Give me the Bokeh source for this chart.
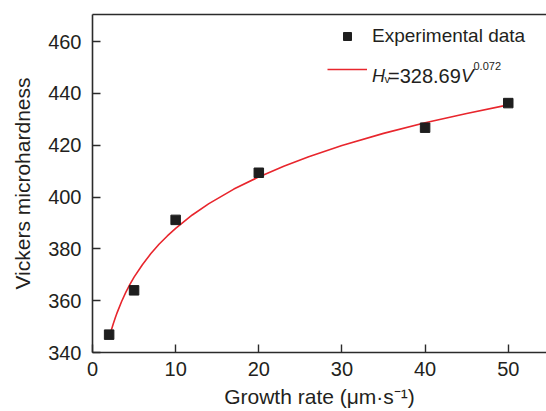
from bokeh.plotting import figure
from bokeh.models import (Range1d, FixedTicker, LinearAxis, Legend, LegendItem, Label)
from bokeh.embed import file_html
from bokeh.resources import INLINE

# ---- data ----
growth_rate = [2, 5, 10, 20, 40, 50]
hardness = [346.9, 364.0, 391.2, 409.4, 426.8, 436.3]

fit_rate = [2, 2.25, 2.5, 2.75, 3, 3.5, 4, 4.5, 5, 6, 7, 8, 9, 10, 12, 14, 17,
            20, 23, 26, 30, 35, 40, 45, 50]
fit_hardness = [345.5, 348.5, 351.1, 353.5, 355.7, 359.7, 363.2, 366.3, 369.1,
                373.9, 378.1, 381.8, 385.0, 387.9, 393.1, 397.5, 403.1, 407.8,
                411.9, 415.6, 419.9, 424.6, 428.7, 432.3, 435.6]

x_ticks = [0, 10, 20, 30, 40, 50]
y_ticks = [340, 360, 380, 400, 420, 440, 460]

FONT = "Liberation Sans"
TXT = "#231f20"
AX = "#2b2b2b"
RED = "#e8262d"

p = figure(width=546, height=411, output_backend="svg", toolbar_location=None,
           x_range=Range1d(0, 54.6), y_range=Range1d(340, 470.5),
           min_border_left=92, min_border_top=14, min_border_bottom=59,
           min_border_right=0)
p.outline_line_color = None
p.grid.visible = False
p.background_fill_color = "white"
p.border_fill_color = "white"

ln = p.line(fit_rate, fit_hardness, line_color=RED, line_width=1.6)
sc = p.scatter(growth_rate, hardness, marker="square", size=9.5,
               fill_color="#1e1e1e", line_color="#1e1e1e")

def style_axis(ax, ticks):
    ax.ticker = FixedTicker(ticks=ticks)
    ax.major_tick_in = 8
    ax.major_tick_out = 0
    ax.minor_tick_line_color = None
    ax.axis_line_color = AX
    ax.axis_line_width = 1.6
    ax.major_tick_line_color = AX
    ax.major_tick_line_width = 1.4
    ax.major_label_text_font = FONT
    ax.major_label_text_font_size = "20px"
    ax.major_label_text_color = TXT
    ax.axis_label_text_font = FONT
    ax.axis_label_text_font_size = "21px"
    ax.axis_label_text_font_style = "normal"
    ax.axis_label_text_color = TXT

xa = p.xaxis[0]
style_axis(xa, x_ticks)
xa.axis_label = "Growth rate (μm·s⁻¹)"
xa.major_label_standoff = 9
xa.axis_label_standoff = 6

ya = p.yaxis[0]
style_axis(ya, y_ticks)
ya.axis_label = "Vickers microhardness"
ya.major_label_standoff = 11
ya.axis_label_standoff = 11

top = LinearAxis(ticker=FixedTicker(ticks=[]), axis_line_color=AX, axis_line_width=1.6,
                 major_tick_line_color=None, minor_tick_line_color=None,
                 major_label_text_font_size="0px")
p.add_layout(top, "above")

legend = Legend(items=[LegendItem(label="Experimental data", renderers=[sc]),
                       LegendItem(label=" ", renderers=[ln])],
                location=(235, 273), padding=0, margin=0,
                border_line_color=None, background_fill_alpha=0,
                glyph_width=40, glyph_height=20, label_height=20,
                label_standoff=5, spacing=12,
                label_text_font=FONT, label_text_font_size="19px",
                label_text_color=TXT)
p.add_layout(legend, "center")

def lab(text, x, y, size, style="normal", align="left"):
    p.add_layout(Label(x=x, y=y, x_units="screen", y_units="screen", text=text,
                       text_font=FONT, text_font_size=size, text_font_style=style,
                       text_color=TXT, text_baseline="alphabetic", text_align=align))

# fitted equation in legend
lab("H", 279.5, 277, "18px", "italic")
lab("v", 292, 274, "11px")
lab("=328.69", 295.5, 277, "20px")
lab("V", 368.5, 277, "19px", "italic")
lab("0.072", 381, 287, "11px")

open("out.html", "w").write(file_html(p, INLINE))
